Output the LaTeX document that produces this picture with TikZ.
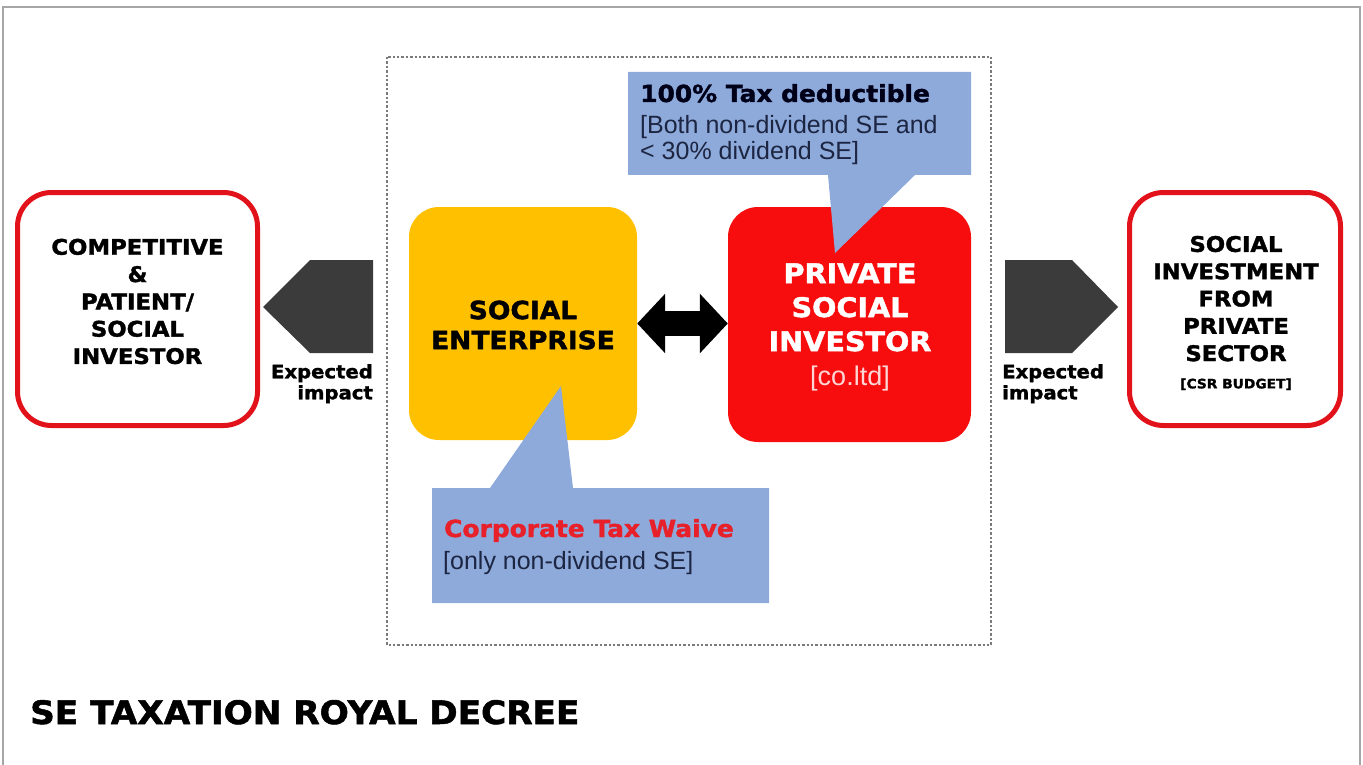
\documentclass[tikz,border=0pt]{standalone}
\usepackage{fontspec}
\setmainfont{Liberation Sans}
\newfontfamily\heavy{DejaVu Sans}[FakeBold=1.6, FakeStretch=1.06]
\usetikzlibrary{arrows.meta}
\definecolor{framegray}{HTML}{A6A6A6}
\definecolor{dotgray}{HTML}{7A7A7A}
\definecolor{seyellow}{HTML}{FFC000}
\definecolor{psired}{HTML}{F70D0D}
\definecolor{outred}{HTML}{E2121B}
\definecolor{callblue}{HTML}{8EAADB}
\definecolor{darkarrow}{HTML}{3B3B3B}
\definecolor{navytext}{HTML}{1C2541}
\definecolor{waivered}{HTML}{E8202A}
\definecolor{pinkwhite}{HTML}{FFD6D6}
\begin{document}
\begin{tikzpicture}[x=1pt,y=-1pt,
  outbox/.style={draw=outred, line width=5pt, rounded corners=34pt, fill=white, inner sep=0pt},
  fillbox/.style={rounded corners=30pt, inner sep=0pt},
  txt/.style={inner sep=0pt, align=center},
  calltxt/.style={inner sep=0pt, anchor=base west},
  callout/.style={fill=callblue}]
\useasboundingbox (0,0) rectangle (1363,765);
% outer frame
\draw[framegray, line width=1.5pt] (3,765) -- (3,7) -- (1360,7) -- (1360,765);
% dotted frame
\draw[dotgray, line width=2.6pt, dash pattern=on 2.4pt off 2pt] (387,57) rectangle (991,645);

% outer boxes
\node[outbox, minimum width=240pt, minimum height=233pt] (comp) at (137.5,309) {};
\node[txt, font=\heavy\bfseries\fontsize{21.5}{27.3}\selectfont] (comptext) at (137.5,301.5)
  {COMPETITIVE\\\&\\PATIENT/\\SOCIAL\\INVESTOR};
\node[outbox, minimum width=211pt, minimum height=233pt] (csr) at (1235,309) {};
\node[txt, font=\heavy\bfseries\fontsize{21.5}{27.3}\selectfont] (csrtext) at (1236,313)
  {SOCIAL\\INVESTMENT\\FROM\\PRIVATE\\SECTOR\\{\fontsize{13}{15}\selectfont [CSR BUDGET]}};

% central boxes
\node[fillbox, fill=seyellow, minimum width=228pt, minimum height=233pt] (se) at (523,323.5) {};
\node[txt, font=\heavy\bfseries\fontsize{25}{30}\selectfont] (setext) at (523,325) {SOCIAL\\ENTERPRISE};
\node[fillbox, fill=psired, minimum width=243pt, minimum height=235pt] (psi) at (849.5,324.5) {};
\node[txt, text=white, font=\heavy\bfseries\fontsize{27}{34}\selectfont] (psitext) at (850,327)
  {PRIVATE\\SOCIAL\\INVESTOR\\{\normalfont\fontsize{27}{34}\selectfont\color{pinkwhite}[co.ltd]}};

% double arrow
\draw[line width=25pt, {Triangle[length=28pt,width=58pt]}-{Triangle[length=28pt,width=58pt]}]
  (se.east) -- (se.east -| psi.west);

% impact arrows
\fill[darkarrow] (373,260) -- (310,260) -- (263,307) -- (310,353) -- (373,353) -- cycle;
\fill[darkarrow] (1005,260) -- (1072,260) -- (1118,307) -- (1072,353) -- (1005,353) -- cycle;
\node[inner sep=0pt, anchor=north east, align=right, font=\heavy\bfseries\fontsize{18.5}{21}\selectfont] (expl) at (373,364) {Expected\\impact};
\node[inner sep=0pt, anchor=north west, align=left, font=\heavy\bfseries\fontsize{18.5}{21}\selectfont] (expr) at (1002,364) {Expected\\impact};

% callouts
\fill[callout] (628,72) -- (971,72) -- (971,175) -- (915,175) -- (835,253) -- (828,175) -- (628,175) -- cycle;
\node[calltxt, font=\heavy\bfseries\fontsize{23.5}{28}\selectfont, text=black!90!blue] (taxded) at (640,102) {100\% Tax deductible};
\node[calltxt, font=\fontsize{25}{27}\selectfont, text=navytext] (taxsub1) at (640,134) {[Both non-dividend SE and};
\node[calltxt, font=\fontsize{25}{27}\selectfont, text=navytext] (taxsub2) at (640,160) {< 30\% dividend SE]};

\fill[callout] (432,488) -- (490,488) -- (561,386) -- (573,488) -- (769,488) -- (769,603) -- (432,603) -- cycle;
\node[calltxt, font=\heavy\bfseries\fontsize{23.5}{28}\selectfont, text=waivered] (waive) at (444,537) {Corporate Tax Waive};
\node[calltxt, font=\fontsize{25}{27}\selectfont, text=navytext] (waivesub) at (443,569) {[only non-dividend SE]};

% title
\node[calltxt, font=\heavy\bfseries\fontsize{32.3}{38}\selectfont] (title) at (30,724) {SE TAXATION ROYAL DECREE};
\end{tikzpicture}
\end{document}
